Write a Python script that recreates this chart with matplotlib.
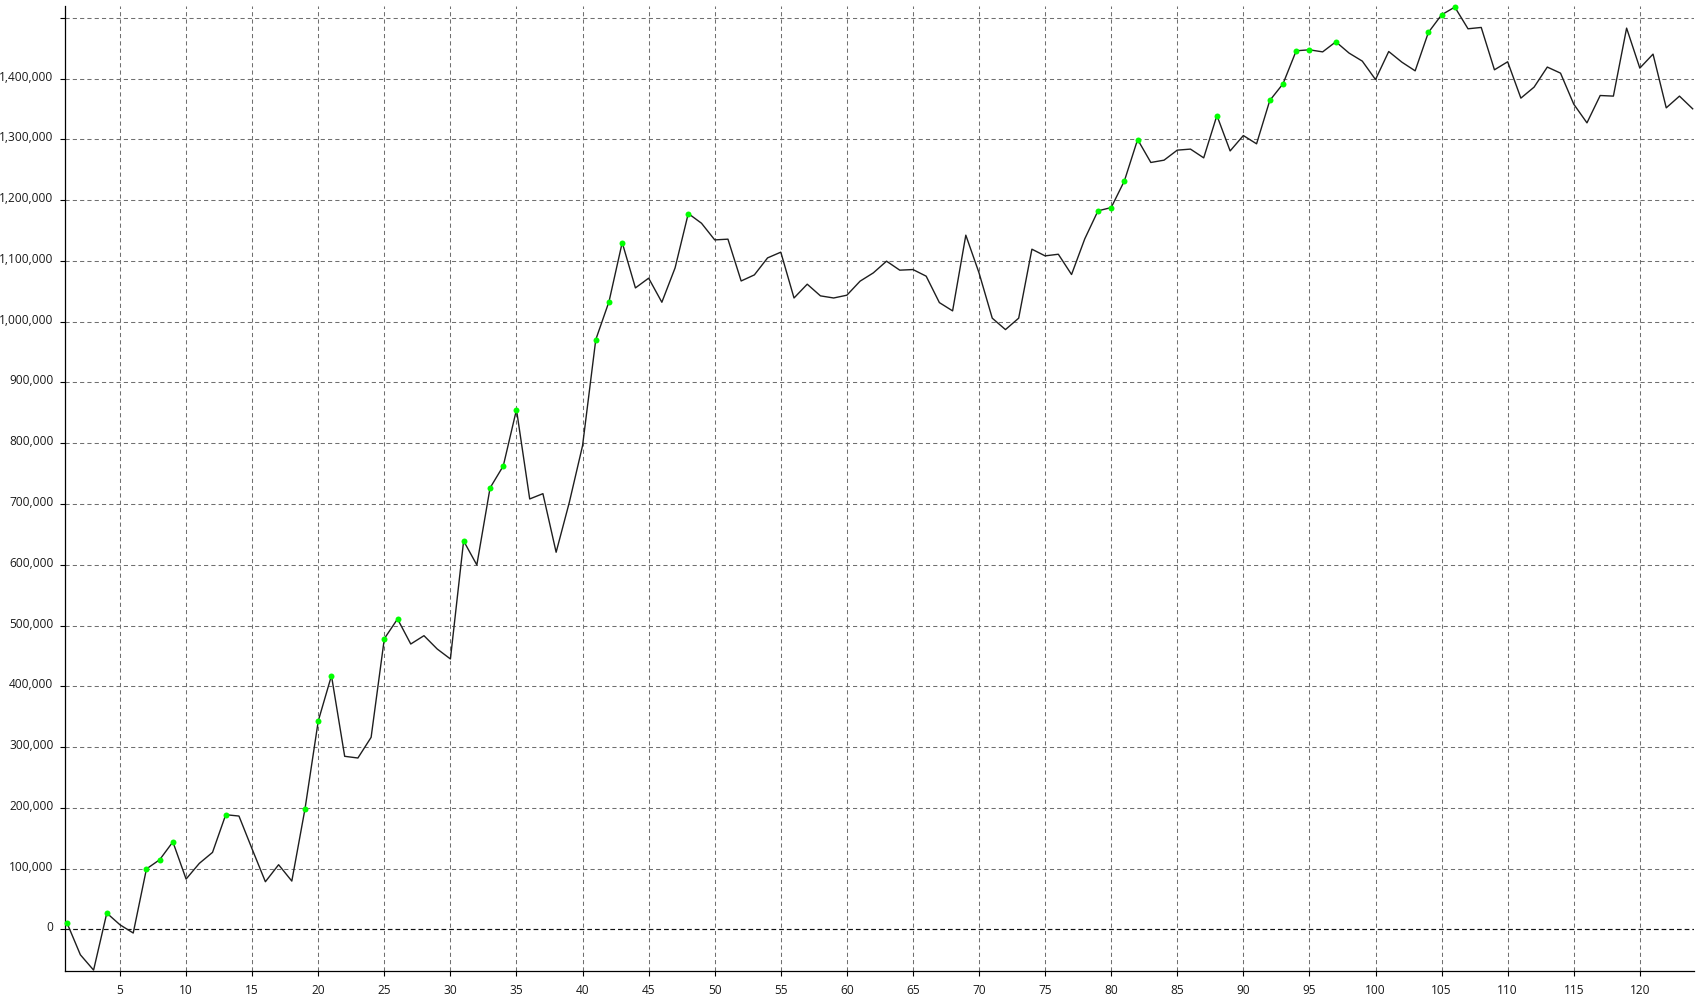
import matplotlib
matplotlib.use("Agg")
import matplotlib.pyplot as plt
from matplotlib.ticker import FixedLocator, FuncFormatter
from matplotlib.transforms import ScaledTranslation
import numpy as np

# ---- data ----
periods = list(range(1, 125))
equity = [
    10000, -41800, -67000, 26800, 7500, -6000, 99500, 114600, 144000, 82800,
    108600, 126700, 188700, 186500, 132000, 78400, 106400, 79500, 198600, 342900,
    417500, 284800, 282000, 316000, 478400, 510800, 469600, 483300, 461400, 445000,
    639200, 599700, 726400, 762600, 855300, 708300, 717000, 620600, 702900, 796000,
    970500, 1033000, 1130200, 1055600, 1071600, 1032000, 1088500, 1178000, 1162000, 1134600,
    1135800, 1067000, 1077000, 1105000, 1114400, 1039000, 1061700, 1042500, 1039000, 1043600,
    1066700, 1080300, 1099600, 1084800, 1085800, 1074900, 1031400, 1017800, 1142400, 1080300,
    1005800, 987000, 1005800, 1119300, 1108300, 1111000, 1077600, 1136300, 1182400, 1187800,
    1231800, 1299800, 1262000, 1265800, 1282300, 1284000, 1269600, 1339300, 1281000, 1306300,
    1292700, 1364000, 1391400, 1445800, 1447400, 1444000, 1460600, 1442000, 1428800, 1398500,
    1444600, 1427000, 1412800, 1475900, 1505000, 1517700, 1482000, 1484200, 1414500, 1427700,
    1367900, 1386000, 1419000, 1409000, 1358000, 1327200, 1372200, 1371200, 1483100, 1417300,
    1440300, 1351900, 1371200, 1350300,
]
x_ticks = list(range(5, 121, 5))
y_ticks = list(range(0, 1500001, 100000))

# ---- figure ----
DPI = 100
fig = plt.figure(figsize=(16.97, 10.04), dpi=DPI, facecolor="white")
ax = fig.add_axes([0.03848, 0.03217, 0.998 - 0.03848, 0.99273 - 0.03217])

font = ["Open Sans", "DejaVu Sans"]

x = np.array(periods)
y = np.array(equity)

# grid
grid_kw = dict(color="#707070", linewidth=0.75, dashes=(4, 3), zorder=1)
for xt in x_ticks:
    ax.axvline(xt, **grid_kw)
for yt in y_ticks:
    if yt == 0:
        ax.axhline(0, color="#111111", linewidth=0.85, dashes=(4, 2.5), zorder=1.5)
    else:
        ax.axhline(yt, **grid_kw)

# equity line
ax.plot(x, y, color="#1e1e1e", linewidth=1.0, zorder=3)

# new-high markers
cummax = np.maximum.accumulate(y)
is_high = np.r_[True, y[1:] > cummax[:-1]]
ax.plot(x[is_high], y[is_high], linestyle="none", marker="o", markersize=4.3,
        color="#00ff00", markeredgewidth=0, zorder=4, clip_on=False)

ax.set_xlim(0.86, 124.07)
ax.set_ylim(-68000, 1519000)

for s in ["top", "right"]:
    ax.spines[s].set_visible(False)
for s in ["left", "bottom"]:
    ax.spines[s].set_color("black")
    ax.spines[s].set_linewidth(0.9)

ax.xaxis.set_major_locator(FixedLocator(x_ticks))
ax.yaxis.set_major_locator(FixedLocator(y_ticks))
ax.yaxis.set_major_formatter(FuncFormatter(
    lambda v, p: "" if v >= 1500000 else f"{int(v):,}"))
ax.tick_params(axis="both", direction="out", length=3.6, width=0.8, color="black",
               labelsize=8.6, labelcolor="#1a1a1a")
ax.tick_params(axis="y", pad=5)
ax.tick_params(axis="x", pad=5.5)
for lbl in ax.get_xticklabels() + ax.get_yticklabels():
    lbl.set_fontfamily(font)
offset = ScaledTranslation(0, 4 / DPI, fig.dpi_scale_trans)
for lbl in ax.get_yticklabels():
    lbl.set_transform(lbl.get_transform() + offset)

fig.savefig("out.png", dpi=DPI, facecolor="white")
